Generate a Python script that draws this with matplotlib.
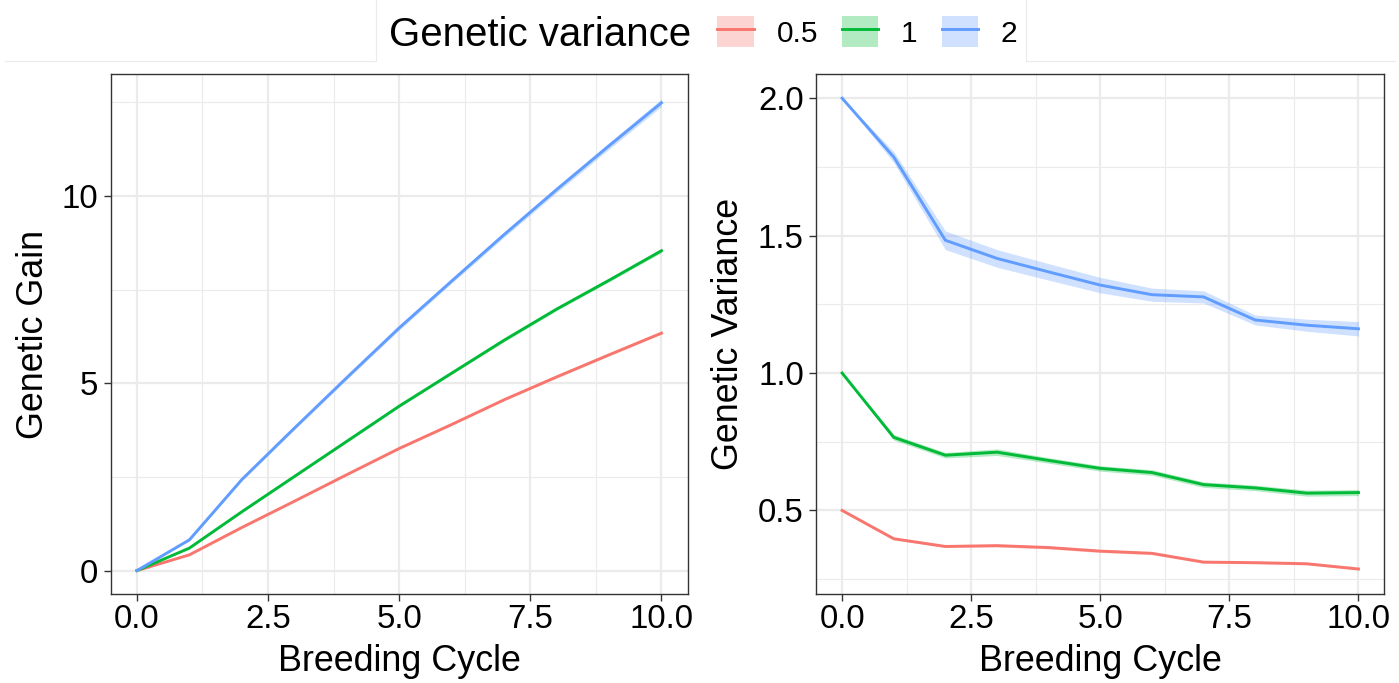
import matplotlib
matplotlib.use("Agg")
import matplotlib.pyplot as plt
from matplotlib.lines import Line2D
from matplotlib.patches import Patch
from matplotlib.legend_handler import HandlerTuple
from matplotlib.ticker import MultipleLocator

plt.rcParams['font.family'] = ['Liberation Sans', 'DejaVu Sans']

# breeding cycles
cycles = [0, 1, 2, 3, 4, 5, 6, 7, 8, 9, 10]
groups = ['0.5', '1', '2']
colors = ['#F8766D', '#00BA38', '#619CFF']

# genetic gain (mean) per starting variance
gain_05 = [0, 0.42, 1.15, 1.85, 2.56, 3.26, 3.90, 4.56, 5.17, 5.76, 6.34]
gain_1 = [0, 0.60, 1.57, 2.51, 3.45, 4.39, 5.27, 6.15, 6.98, 7.75, 8.54]
gain_2 = [0, 0.82, 2.43, 3.80, 5.15, 6.48, 7.73, 8.97, 10.17, 11.34, 12.49]
# half width of the ribbons
gain_se_05 = [0, 0.01, 0.01, 0.01, 0.02, 0.02, 0.02, 0.02, 0.03, 0.03, 0.03]
gain_se_1 = [0, 0.01, 0.02, 0.02, 0.03, 0.03, 0.03, 0.04, 0.04, 0.04, 0.05]
gain_se_2 = [0, 0.02, 0.03, 0.04, 0.05, 0.06, 0.06, 0.07, 0.08, 0.09, 0.10]

# genetic variance (mean) per starting variance
var_05 = [0.50, 0.397, 0.369, 0.372, 0.365, 0.352, 0.344, 0.312, 0.310, 0.306, 0.287]
var_1 = [1.00, 0.766, 0.701, 0.712, 0.682, 0.653, 0.638, 0.594, 0.582, 0.563, 0.565]
var_2 = [2.00, 1.786, 1.483, 1.417, 1.368, 1.320, 1.285, 1.277, 1.193, 1.174, 1.161]
var_se_05 = [0, 0.004, 0.004, 0.005, 0.005, 0.005, 0.005, 0.004, 0.004, 0.004, 0.004]
var_se_1 = [0, 0.010, 0.010, 0.012, 0.010, 0.010, 0.010, 0.010, 0.010, 0.011, 0.011]
var_se_2 = [0, 0.020, 0.034, 0.032, 0.030, 0.028, 0.024, 0.022, 0.018, 0.022, 0.026]

gain_means = [gain_05, gain_1, gain_2]
gain_ses = [gain_se_05, gain_se_1, gain_se_2]
var_means = [var_05, var_1, var_2]
var_ses = [var_se_05, var_se_1, var_se_2]

W, H = 1399, 683
fig = plt.figure(figsize=(W / 100, H / 100), dpi=100)


def px_axes(x0, y0, x1, y1):
    return fig.add_axes([x0 / W, 1 - y1 / H, (x1 - x0) / W, (y1 - y0) / H])


def style(ax, ymajor, yminor):
    ax.set_facecolor('white')
    ax.xaxis.set_major_locator(MultipleLocator(2.5))
    ax.xaxis.set_minor_locator(MultipleLocator(1.25))
    ax.yaxis.set_major_locator(MultipleLocator(ymajor))
    ax.yaxis.set_minor_locator(MultipleLocator(yminor))
    ax.grid(which='major', color='#EBEBEB', lw=1.6, zorder=0)
    ax.grid(which='minor', color='#EBEBEB', lw=0.8, zorder=0)
    ax.set_axisbelow(True)
    for s in ax.spines.values():
        s.set_color('#333333')
        s.set_linewidth(1.0)
    ax.tick_params(which='major', length=5, width=1.0, color='#333333',
                   labelsize=23.8, labelcolor='black')
    ax.tick_params(axis='x', which='major', pad=2)
    ax.tick_params(axis='y', which='major', pad=4)
    ax.tick_params(which='minor', length=0)
    ax.set_xlim(-0.5, 10.5)


def draw(ax, means, ses):
    handles = []
    for m, se, c in zip(means, ses, colors):
        lo = [a - b for a, b in zip(m, se)]
        hi = [a + b for a, b in zip(m, se)]
        ax.fill_between(cycles, lo, hi, color=c, alpha=0.3, lw=0, zorder=2)
        ax.plot(cycles, m, color=c, lw=2.1, zorder=3, solid_joinstyle='round')
        handles.append((Patch(facecolor=c, alpha=0.3, lw=0),
                        Line2D([], [], color=c, lw=2.1)))
    return handles


ax1 = px_axes(110.7, 74.3, 687.7, 594)
style(ax1, 5, 2.5)
handles = draw(ax1, gain_means, gain_ses)
ax1.set_ylim(-0.625, 13.25)
ax1.yaxis.set_major_formatter(lambda v, p: f'{v:g}')
ax1.xaxis.set_major_formatter(lambda v, p: f'{v:.1f}')

ax2 = px_axes(816.3, 74.3, 1384.3, 594)
style(ax2, 0.5, 0.25)
draw(ax2, var_means, var_ses)
ax2.set_ylim(0.196, 2.087)
ax2.yaxis.set_major_formatter(lambda v, p: f'{v:.1f}')
ax2.xaxis.set_major_formatter(lambda v, p: f'{v:.1f}')

# axis titles
for cx in [399, 1100]:
    fig.text(cx / W, 1 - 670.7 / H, 'Breeding Cycle', fontsize=25.8,
             ha='center', va='baseline')
fig.text(43 / W, 1 - 334 / H, 'Genetic Gain', fontsize=25.8, rotation=90,
         ha='center', va='baseline', rotation_mode='anchor')
fig.text(738 / W, 1 - 334 / H, 'Genetic Variance', fontsize=25.8, rotation=90,
         ha='center', va='baseline', rotation_mode='anchor')

# legend
fig.text(389 / W, 1 - 46 / H, 'Genetic variance', fontsize=29,
         ha='left', va='baseline')
fig.legend(handles, groups, handler_map={tuple: HandlerTuple(ndivide=1, pad=0)},
           loc='center', bbox_to_anchor=(867.4 / W, 1 - 32 / H), ncol=3,
           frameon=False, fontsize=21.5, borderpad=0, handlelength=1.22,
           handleheight=1.22, handletextpad=0.76, columnspacing=0.8)

# light frame lines around the legend strip
grey = '#EBEBEB'
for xs, ys in [([5, 376], [61, 61]), ([1026, 1395], [61, 61]),
               ([376, 376], [0, 61]), ([1026, 1026], [0, 61])]:
    fig.add_artist(Line2D([x / W for x in xs], [1 - y / H for y in ys],
                          color=grey, lw=0.8))

fig.savefig('out.png', dpi=100)
